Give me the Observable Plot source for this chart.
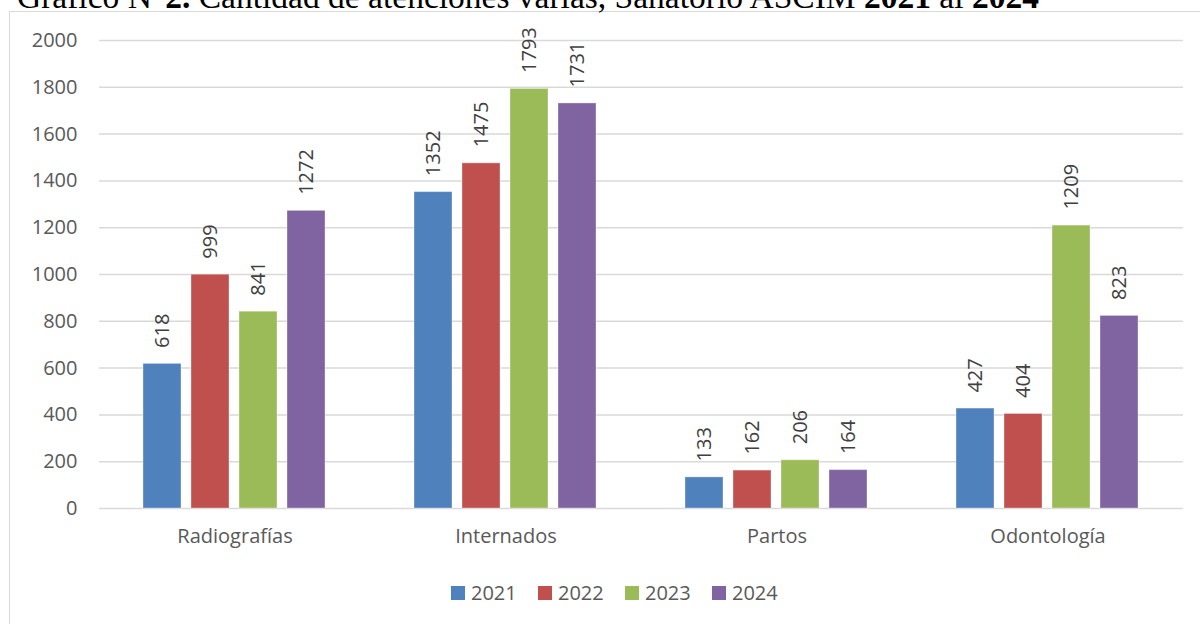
<!DOCTYPE html>
<html><head><meta charset="utf-8">
<script src="https://cdn.jsdelivr.net/npm/d3@7"></script>
<script src="https://cdn.jsdelivr.net/npm/@observablehq/plot@0.6"></script>
<style>
body{margin:0;width:1200px;height:624px;overflow:hidden;position:relative;background:#fff;font-family:"Open Sans",sans-serif;}
#frame{position:absolute;left:9px;top:11px;width:1300px;height:700px;border:1px solid #d9d9d9;box-sizing:border-box}
#title{position:absolute;left:17px;top:-20px;font-weight:normal;font-size:33.5px;font-family:"Liberation Serif",serif;line-height:33.5px;white-space:nowrap;color:#000}
#title b{font-weight:bold}
#chart{position:absolute;left:0;top:0}
#legend{position:absolute;top:580px;left:451px;display:flex;font-size:20px;color:#595959;line-height:26px}
.item{display:flex;align-items:center;width:87px}
.sw{width:14px;height:14px;margin-right:6px}
</style></head>
<body>
<div id="frame"></div>
<div id="title">Gráfico N°<b>2.</b> Cantidad de atenciones varias, Sanatorio ASCIM <b>2021</b> al <b>2024</b></div>
<div id="chart"></div>
<div id="legend"></div>
<script>
const categories = ["Radiografías","Internados","Partos","Odontología"];
const years = ["2021","2022","2023","2024"];
const v2021 = [618,1352,133,427];
const v2022 = [999,1475,162,404];
const v2023 = [841,1793,206,1209];
const v2024 = [1272,1731,164,823];
const yTicks = [0,200,400,600,800,1000,1200,1400,1600,1800,2000];
const colors = ["#4F81BD","#C0504D","#9BBB59","#8064A2"];

const series = [v2021,v2022,v2023,v2024];
const data = categories.flatMap((c,i)=>years.map((y,j)=>({cat:c,year:y,value:series[j][i]})));

const chart = Plot.plot({
  width:1200, height:560,
  marginLeft:98, marginRight:16, marginTop:40, marginBottom:52,
  style:{fontFamily:"'Open Sans',sans-serif", fontSize:"20px", color:"#595959", background:"transparent", overflow:"visible"},
  fx:{domain:categories, padding:0, label:null, axis:"bottom", tickSize:0, tickPadding:20},
  x:{domain:years, paddingInner:0.2, paddingOuter:0.87, axis:null},
  y:{domain:[0,2000], ticks:yTicks, tickSize:0, tickPadding:22, label:null, tickFormat:d=>String(d)},
  color:{domain:years, range:colors},
  marks:[
    Plot.ruleY(yTicks,{stroke:"#d9d9d9", strokeWidth:1.5}),
    Plot.barY(data,{fx:"cat", x:"year", y:"value", fill:"year", stroke:"#ffffff", strokeOpacity:0.35, strokeWidth:1}),
    Plot.text(data,{fx:"cat", x:"year", y:"value", text:d=>String(d.value), rotate:-90, textAnchor:"start", lineAnchor:"middle", dy:-16, fill:"#404040", fontSize:20})
  ]
});
document.getElementById("chart").appendChild(chart);

const legend = document.getElementById("legend");
years.forEach((y,i)=>{
  const it=document.createElement("div"); it.className="item";
  const sw=document.createElement("div"); sw.className="sw"; sw.style.background=colors[i];
  const t=document.createElement("span"); t.textContent=y;
  it.appendChild(sw); it.appendChild(t); legend.appendChild(it);
});
</script>
</body></html>
